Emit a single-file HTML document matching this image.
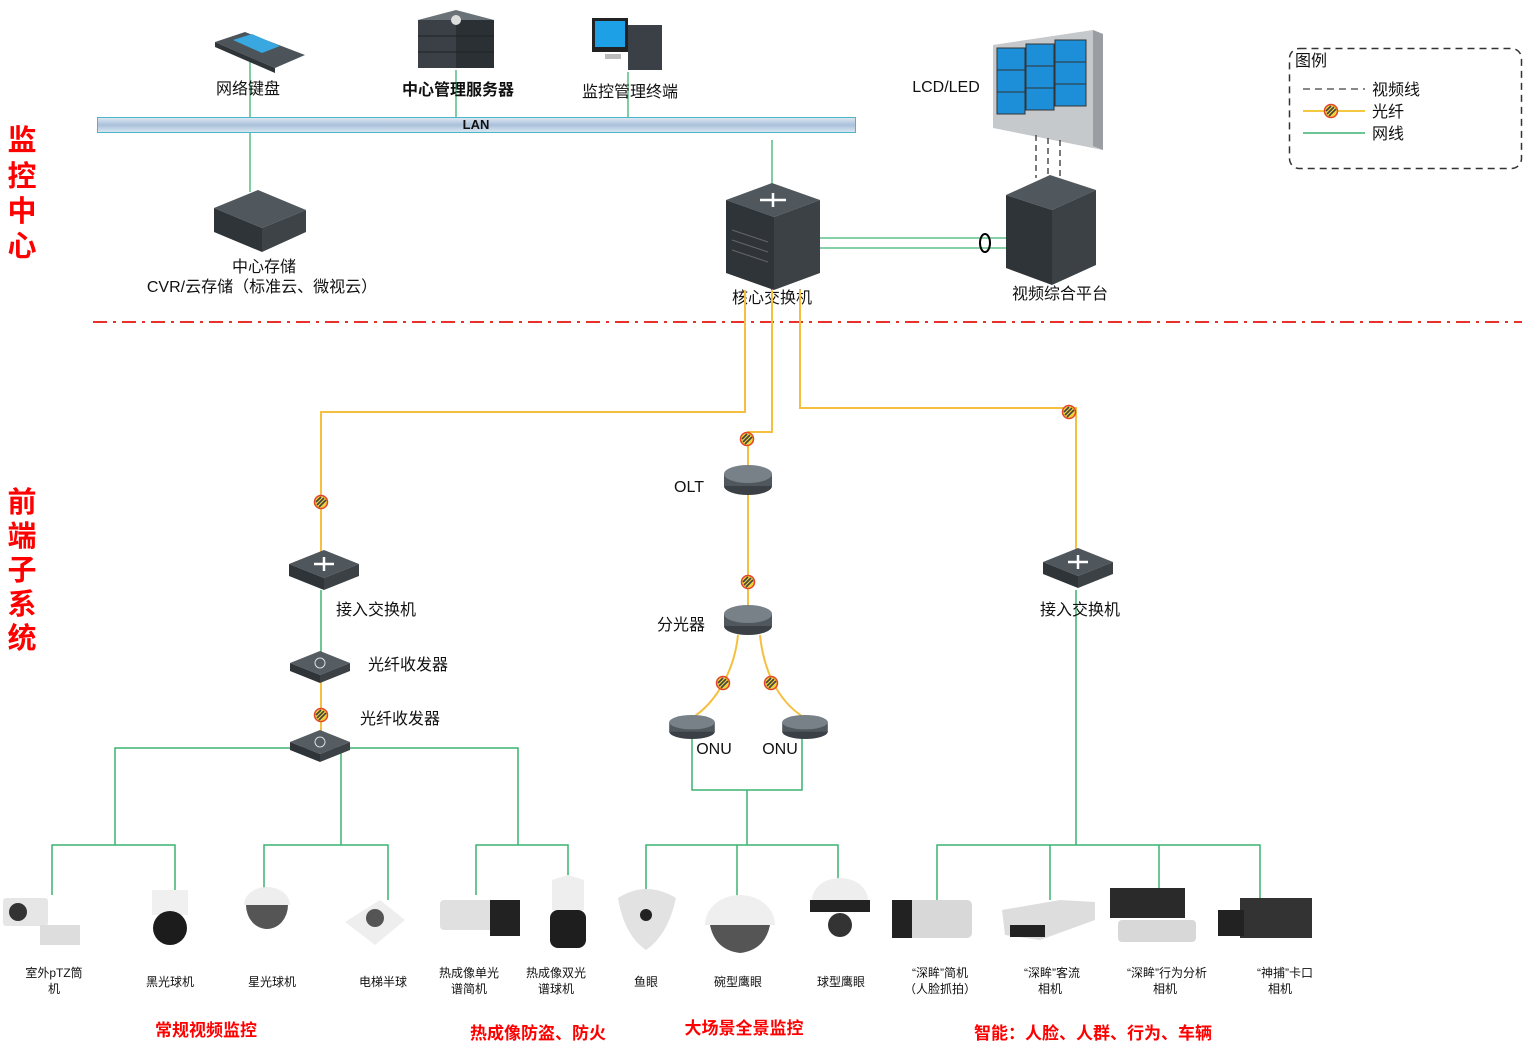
<!DOCTYPE html>
<html><head><meta charset="utf-8"><style>
html,body{margin:0;padding:0;background:#fff}
svg{display:block}
text{font-family:"Liberation Sans","Noto Sans CJK SC",sans-serif;fill:#111}
.s{font-size:16px}
.c{font-size:12px}
.r{fill:#f00;font-weight:bold;font-size:17px}
.big{fill:#f00;font-weight:bold;font-size:29px}
</style></head><body>
<svg width="1528" height="1047" viewBox="0 0 1528 1047" xmlns="http://www.w3.org/2000/svg">
<defs>
<g id="fd"><circle r="6.5" fill="#f1d23a" stroke="#e2452a" stroke-width="1.5"/><path d="M-4,3 L3,-4 M-2,5 L5,-2 M-5,0 L0,-5" stroke="#444" stroke-width="1.6"/></g>
<linearGradient id="lan" x1="0" y1="0" x2="0" y2="1"><stop offset="0" stop-color="#dfe9f4"/><stop offset="0.5" stop-color="#a9c0da"/><stop offset="1" stop-color="#dce8f3"/></linearGradient>
<g id="sw"><path d="M-35,-8 L0,-22 L35,-8 L0,6Z" fill="#4f565c"/><path d="M-35,-8 L0,6 L0,18 L-35,4Z" fill="#2f3438"/><path d="M35,-8 L0,6 L0,18 L35,4Z" fill="#3b4145"/><path d="M-10,-8 h20 M0,-15 v14" stroke="#fff" stroke-width="2.5"/></g>
<g id="cyl"><ellipse cx="0" cy="6" rx="24" ry="9" fill="#3a4045"/><rect x="-24" y="-6" width="48" height="12" fill="#50585e"/><ellipse cx="0" cy="-6" rx="24" ry="9" fill="#788088"/></g>
<g id="tr"><path d="M-30,-4 L0,-16 L30,-4 L0,8Z" fill="#555c62"/><path d="M-30,-4 L0,8 L0,16 L-30,4Z" fill="#2f3438"/><path d="M30,-4 L0,8 L0,16 L30,4Z" fill="#3b4145"/><circle cx="0" cy="-4" r="5" fill="none" stroke="#ddd"/></g>
</defs>

<!-- left red titles -->
<g class="big" text-anchor="middle">
<text x="22" y="150" class="big">监</text><text x="22" y="186" class="big">控</text><text x="22" y="221" class="big">中</text><text x="22" y="256" class="big">心</text>
<text x="22" y="512" class="big">前</text><text x="22" y="546" class="big">端</text><text x="22" y="580" class="big">子</text><text x="22" y="614" class="big">系</text><text x="22" y="648" class="big">统</text>
</g>

<!-- green top lines -->
<g stroke="#3cb371" stroke-width="1.3" fill="none">
<line x1="250" y1="60" x2="250" y2="117"/><line x1="456" y1="70" x2="456" y2="117"/><line x1="628" y1="72" x2="628" y2="117"/>
<line x1="250" y1="132" x2="250" y2="192"/><line x1="772" y1="140" x2="772" y2="185"/>
<line x1="820" y1="238" x2="1008" y2="238"/><line x1="820" y1="248" x2="1008" y2="248"/>
</g>
<ellipse cx="985" cy="243" rx="5" ry="9" fill="none" stroke="#000" stroke-width="2"/>

<!-- LAN -->
<rect x="97.5" y="117.5" width="758" height="15" fill="url(#lan)" stroke="#4ab6c6"/>
<text x="476" y="129" font-family="Liberation Serif" font-weight="bold" font-size="13" text-anchor="middle">LAN</text>

<!-- keyboard -->
<path d="M215,42 L245,32 L305,55 L275,68Z" fill="#4c545a"/><path d="M215,42 L275,68 L275,73 L215,47Z" fill="#2f3438"/><path d="M233,40 L252,34 L280,46 L262,53Z" fill="#39a7e0"/>
<!-- server -->
<g><path d="M418,20 L456,10 L494,20 L456,30Z" fill="#6a7278"/>
<rect x="418" y="20" width="38" height="48" fill="#3a4045"/><rect x="456" y="20" width="38" height="48" fill="#2b3034"/>
<path d="M418,36 h76 M418,52 h76" stroke="#1e2225"/><circle cx="456" cy="20" r="5" fill="#ddd"/></g>
<!-- terminal -->
<rect x="592" y="18" width="36" height="34" fill="#222"/><rect x="595" y="21" width="30" height="26" fill="#1ea0e6"/>
<rect x="628" y="25" width="34" height="45" fill="#3a4045"/><rect x="605" y="54" width="16" height="5" fill="#bbb"/>
<!-- storage -->
<path d="M214,208 L258,190 L306,210 L262,228Z" fill="#50585e"/><path d="M214,208 L262,228 L262,252 L214,232Z" fill="#2f3438"/><path d="M306,210 L262,228 L262,252 L306,232Z" fill="#3d4347"/>
<!-- core switch -->
<path d="M726,200 L772,183 L820,200 L774,217Z" fill="#50585e"/>
<path d="M726,200 L774,217 L774,290 L726,273Z" fill="#2f3438"/><path d="M820,200 L774,217 L774,290 L820,273Z" fill="#3b4145"/>
<path d="M760,200 h26 M773,193 v14" stroke="#fff" stroke-width="2.5"/>
<g stroke="#666" stroke-width="1"><path d="M732,230 L768,242 M732,240 L768,252 M732,250 L768,262"/></g>
<!-- LCD -->
<path d="M993,45 L1093,30 L1103,34 L1103,150 L993,128Z" fill="#c6c9cc"/><path d="M1093,30 L1103,34 L1103,150 L1093,146Z" fill="#9a9ea2"/>
<g fill="#1d8fd8" stroke="#333"><rect x="997" y="48" width="28" height="22"/><rect x="1026" y="44" width="28" height="22"/><rect x="1055" y="40" width="31" height="22"/>
<rect x="997" y="70" width="28" height="22"/><rect x="1026" y="66" width="28" height="22"/><rect x="1055" y="62" width="31" height="22"/>
<rect x="997" y="92" width="28" height="22"/><rect x="1026" y="88" width="28" height="22"/><rect x="1055" y="84" width="31" height="22"/></g>
<g stroke="#333" stroke-dasharray="6,4" stroke-width="1.3"><line x1="1036" y1="135" x2="1036" y2="178"/><line x1="1048" y1="138" x2="1048" y2="178"/><line x1="1060" y1="140" x2="1060" y2="178"/></g>
<!-- platform -->
<path d="M1006,195 L1050,175 L1096,190 L1052,210Z" fill="#50585e"/><path d="M1006,195 L1052,210 L1052,285 L1006,268Z" fill="#2f3438"/><path d="M1096,190 L1052,210 L1052,285 L1096,265Z" fill="#3b4145"/>

<!-- top labels -->
<text x="248" y="94" class="s" text-anchor="middle">网络键盘</text>
<text x="458" y="95" class="s" font-weight="bold" text-anchor="middle">中心管理服务器</text>
<text x="630" y="97" class="s" text-anchor="middle">监控管理终端</text>
<text x="946" y="92" class="s" text-anchor="middle">LCD/LED</text>
<text x="264" y="272" class="s" text-anchor="middle">中心存储</text>
<text x="262" y="292" class="s" text-anchor="middle">CVR/云存储（标准云、微视云）</text>
<text x="772" y="303" class="s" text-anchor="middle">核心交换机</text>
<text x="1060" y="299" class="s" text-anchor="middle">视频综合平台</text>

<!-- legend -->
<rect x="1289.5" y="48.5" width="232" height="120" rx="10" fill="none" stroke="#333" stroke-width="1.5" stroke-dasharray="7,5"/>
<text x="1295" y="66" class="s">图例</text>
<line x1="1303" y1="89" x2="1365" y2="89" stroke="#888" stroke-width="2" stroke-dasharray="7,5"/>
<text x="1372" y="95" class="s">视频线</text>
<line x1="1303" y1="111" x2="1365" y2="111" stroke="#f5c842" stroke-width="2"/><use href="#fd" x="1331" y="111" transform=""/>
<text x="1372" y="117" class="s">光纤</text>
<line x1="1303" y1="133" x2="1365" y2="133" stroke="#3cb371" stroke-width="1.5"/>
<text x="1372" y="139" class="s">网线</text>

<!-- red dash dot -->
<line x1="93" y1="322" x2="1522" y2="322" stroke="#e8312a" stroke-width="2" stroke-dasharray="14,6,3,6"/>

<!-- yellow fiber -->
<g stroke="#f5c040" stroke-width="2" fill="none">
<path d="M745,290 V412 H321 V560"/>
<path d="M772,290 V432 H748 V470"/>
<path d="M800,290 V408 H1076 V555"/>
<path d="M748,490 V605"/>
<path d="M738,635 C735,665 720,700 692,718"/>
<path d="M760,635 C763,665 775,700 805,718"/>
<path d="M321,680 V740"/>
</g>
<use href="#fd" x="321" y="502"/><use href="#fd" x="747" y="439"/><use href="#fd" x="1069" y="412"/>
<use href="#fd" x="748" y="582"/><use href="#fd" x="723" y="683"/><use href="#fd" x="771" y="683"/><use href="#fd" x="321" y="715"/>

<!-- green lower -->
<g stroke="#3cb371" stroke-width="1.5" fill="none">
<path d="M321,590 V660"/>
<path d="M115,845 V748 H518 V845"/><path d="M341,748 V845"/>
<path d="M52,895 V845 H175 V892"/><path d="M264,892 V845 H388 V900"/><path d="M476,895 V845 H568 V885"/>
<path d="M692,735 V790 H802 V735"/><path d="M747,790 V845"/><path d="M646,895 V845 H838 V890"/><path d="M737,845 V897"/>
<path d="M1076,590 V845"/><path d="M937,905 V845 H1260 V900"/><path d="M1050,845 V900"/><path d="M1159,845 V890"/>
</g>

<!-- devices lower -->
<use href="#sw" x="324" y="572"/><use href="#sw" x="1078" y="570"/>
<use href="#tr" x="320" y="667"/><use href="#tr" x="320" y="746"/>
<use href="#cyl" x="748" y="480"/><use href="#cyl" x="748" y="620"/>
<g transform="translate(692,727) scale(0.95,0.8)"><use href="#cyl"/></g>
<g transform="translate(805,727) scale(0.95,0.8)"><use href="#cyl"/></g>

<text x="376" y="615" class="s" text-anchor="middle">接入交换机</text>
<text x="1080" y="615" class="s" text-anchor="middle">接入交换机</text>
<text x="408" y="670" class="s" text-anchor="middle">光纤收发器</text>
<text x="400" y="724" class="s" text-anchor="middle">光纤收发器</text>
<text x="689" y="492" class="s" text-anchor="middle">OLT</text>
<text x="681" y="630" class="s" text-anchor="middle">分光器</text>
<text x="714" y="754" class="s" text-anchor="middle">ONU</text>
<text x="780" y="754" class="s" text-anchor="middle">ONU</text>

<!-- cameras -->
<g>
<rect x="3" y="898" width="45" height="28" rx="3" fill="#e6e6e6"/><circle cx="18" cy="912" r="9" fill="#333"/><path d="M40,925 h40 v20 h-40z" fill="#ddd"/>
<path d="M152,890 h36 v25 h-36z" fill="#f0f0f0"/><circle cx="170" cy="928" r="17" fill="#1c1c1c"/>
<path d="M244,905 a23,18 0 0 1 46,0z" fill="#eee"/><path d="M246,905 h42 a21,24 0 0 1 -42,0z" fill="#555"/>
<path d="M345,922 L380,900 L405,920 L375,945Z" fill="#eee"/><circle cx="375" cy="918" r="9" fill="#555"/>
<rect x="440" y="900" width="70" height="30" rx="4" fill="#e0e0e0"/><rect x="490" y="900" width="30" height="36" fill="#222"/>
<path d="M552,880 L568,875 L584,880 V910 H552Z" fill="#eee"/><rect x="550" y="910" width="36" height="38" rx="8" fill="#1e1e1e"/>
<path d="M618,898 Q646,880 676,898 Q668,935 646,950 Q624,935 618,898Z" fill="#e2e2e2"/><circle cx="646" cy="915" r="6" fill="#222"/>
<path d="M705,925 a35,30 0 0 1 70,0z" fill="#efefef"/><path d="M710,925 h60 q-5,25 -30,28 q-25,-3 -30,-28z" fill="#555"/>
<path d="M812,900 a28,22 0 0 1 56,0z" fill="#eee"/><rect x="810" y="900" width="60" height="12" fill="#222"/><circle cx="840" cy="925" r="12" fill="#333"/>
<rect x="892" y="900" width="80" height="38" rx="5" fill="#d8d8d8"/><rect x="892" y="900" width="20" height="38" fill="#222"/>
<path d="M1002,910 L1060,900 L1095,902 L1095,920 L1040,940 L1005,935Z" fill="#ddd"/><rect x="1010" y="925" width="35" height="12" fill="#222"/>
<rect x="1110" y="888" width="75" height="30" fill="#2a2a2a"/><rect x="1118" y="920" width="78" height="22" rx="4" fill="#d8d8d8"/>
<rect x="1240" y="898" width="72" height="40" fill="#333"/><rect x="1218" y="910" width="26" height="26" fill="#222"/>
</g>

<!-- camera labels -->
<g class="c" text-anchor="middle">
<text x="54" y="977" class="c">室外pTZ筒</text><text x="54" y="993" class="c">机</text>
<text x="170" y="986" class="c">黑光球机</text>
<text x="272" y="986" class="c">星光球机</text>
<text x="383" y="986" class="c">电梯半球</text>
<text x="469" y="977" class="c">热成像单光</text><text x="469" y="993" class="c">谱简机</text>
<text x="556" y="977" class="c">热成像双光</text><text x="556" y="993" class="c">谱球机</text>
<text x="646" y="986" class="c">鱼眼</text>
<text x="738" y="986" class="c">碗型鹰眼</text>
<text x="841" y="986" class="c">球型鹰眼</text>
<text x="940" y="977" class="c">“深眸”简机</text><text x="940" y="993" class="c">（人脸抓拍）</text>
<text x="1052" y="977" class="c">“深眸”客流</text><text x="1050" y="993" class="c">相机</text>
<text x="1167" y="977" class="c">“深眸”行为分析</text><text x="1165" y="993" class="c">相机</text>
<text x="1285" y="977" class="c">“神捕”卡口</text><text x="1280" y="993" class="c">相机</text>
</g>

<!-- bottom red -->
<text x="206" y="1036" class="r" text-anchor="middle">常规视频监控</text>
<text x="538" y="1039" class="r" text-anchor="middle">热成像防盗、防火</text>
<text x="744" y="1034" class="r" text-anchor="middle">大场景全景监控</text>
<text x="1093" y="1039" class="r" text-anchor="middle">智能：人脸、人群、行为、车辆</text>
</svg>
</body></html>
